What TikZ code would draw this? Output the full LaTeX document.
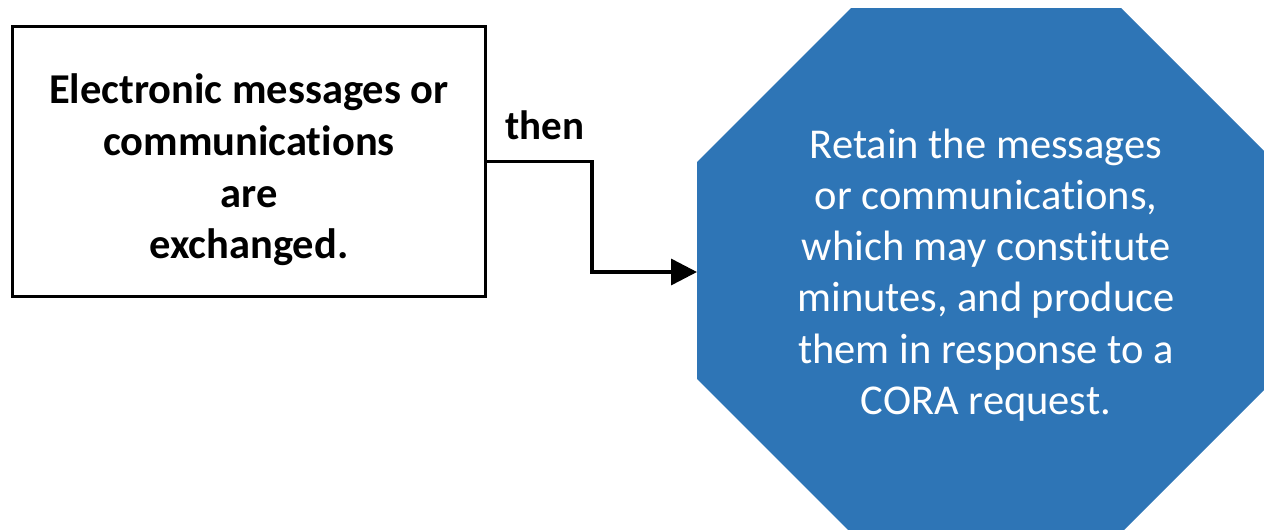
\documentclass[tikz,border=0pt]{standalone}
\usepackage{fontspec}
\setmainfont{Carlito}[Ligatures={NoCommon}]
\usetikzlibrary{arrows.meta}
\definecolor{octblue}{HTML}{2E75B6}
% keep "t" and "i" as separate glyphs
\newcommand{\tisplit}{t\kern0pt i}
\tikzset{
  stepbox/.style={draw=black, line width=3pt, minimum width=473pt, minimum height=270pt, inner sep=0pt},
  boxtext/.style={align=center, font=\fontsize{42.5}{51.6}\selectfont\bfseries, inner sep=0pt},
  octtext/.style={align=center, text=white, font=\fontsize{42.5}{51.2}\selectfont, inner sep=0pt},
  conn/.style={draw=black, line width=3.5pt, -{Triangle[length=26pt,width=26pt]}},
  edgelabel/.style={font=\fontsize{41}{46}\selectfont\bfseries, inner sep=0pt}
}
\begin{document}
\begin{tikzpicture}[x=1pt,y=-1pt]
  \useasboundingbox (0,0) rectangle (1264,530);
  % octagon outline points
  \coordinate (o1) at (851,8);
  \coordinate (o2) at (1121,8);
  \coordinate (o3) at (1275,162);
  \coordinate (o4) at (1275,379);
  \coordinate (o5) at (1121,533);
  \coordinate (o6) at (851,533);
  \coordinate (o7) at (697,379);
  \coordinate (o8) at (697,162);
  \coordinate (owest) at (697,272);
  \fill[octblue] (o1) -- (o2) -- (o3) -- (o4) -- (o5) -- (o6) -- (o7) -- (o8) -- cycle;
  \node[octtext] (oct) at (986,275) {Retain the messages\\or communica\tisplit ons,\\which may cons\tisplit{}tute\\minutes, and produce\\them in response to a\\CORA request.};
  % source box
  \node[stepbox] (src) at (249,161.5) {};
  \node[boxtext] (srctext) at (249,170) {Electronic messages or\\communica\tisplit ons\\are\\exchanged.};
  % connector
  \draw[conn] (src.east) -- ++(105,0) |- (owest);
  \node[edgelabel] (then) at (545,125) {then};
\end{tikzpicture}
\end{document}
